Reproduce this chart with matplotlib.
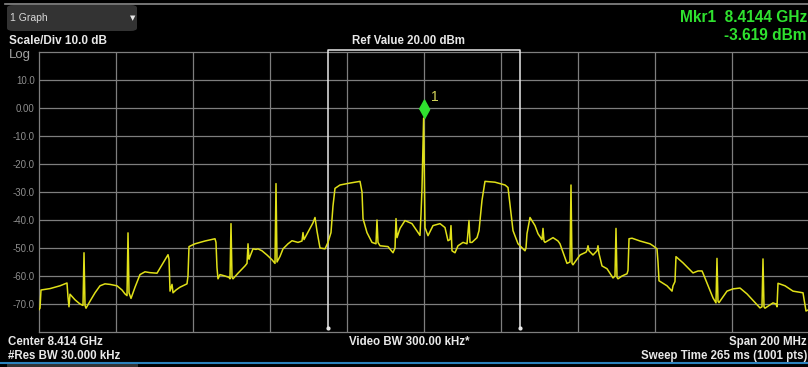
import numpy as np
import matplotlib
matplotlib.use("Agg")
import matplotlib.pyplot as plt
from matplotlib import transforms
from matplotlib.patches import FancyBboxPatch, Rectangle
from matplotlib.lines import Line2D

plt.rcParams['font.family'] = ['Liberation Sans', 'DejaVu Sans']

W, H = 808, 367

# analyzer settings
center_ghz = 8.414
span_mhz = 200
ref_dbm = 20.0
scale_db = 10.0
gate_mhz = [-25.0, 25.0]

# trace: offset from center (MHz) and level (dBm)
freq_mhz = [
    -100.0, -99.74, -99.48, -97.14, -94.55, -92.73, -92.47, -92.21, -91.95, -90.65,
    -89.35, -88.57, -88.31, -88.05, -87.79, -86.75, -85.45, -84.16, -82.86, -81.56,
    -79.74, -78.44, -77.66, -77.14, -76.88, -76.62, -76.10, -75.06, -73.77, -72.47,
    -71.17, -69.35, -68.05, -66.49, -66.23, -65.97, -65.45, -65.19, -64.42, -63.38,
    -61.56, -61.30, -61.04, -59.48, -56.88, -54.29, -54.03, -53.77, -53.51, -52.99,
    -51.69, -50.65, -50.39, -50.13, -49.87, -49.61, -48.31, -46.49, -45.97, -45.71,
    -45.45, -45.19, -44.42, -43.64, -43.12, -42.08, -40.78, -39.48, -38.70, -38.44,
    -38.18, -37.40, -36.62, -35.32, -34.29, -32.73, -31.69, -31.43, -31.17, -29.61,
    -28.83, -28.31, -27.79, -27.01, -25.71, -24.94, -24.16, -23.64, -23.12, -21.82,
    -19.22, -16.62, -16.10, -15.84, -14.81, -13.51, -12.47, -12.21, -11.95, -11.43,
    -9.35, -8.05, -7.53, -7.27, -7.01, -6.23, -4.94, -3.12, -1.56, -1.04,
    -0.78, -0.52, -0.10, 0.26, 1.04, 2.34, 4.16, 5.45, 6.23, 6.75,
    7.01, 7.27, 8.05, 8.83, 10.13, 11.17, 11.69, 11.95, 12.47, 13.77,
    14.29, 15.06, 15.84, 18.44, 21.04, 21.82, 22.60, 23.12, 24.42, 26.23,
    26.49, 26.75, 27.53, 28.83, 29.61, 30.65, 30.91, 31.17, 31.43, 33.51,
    34.81, 35.32, 37.14, 37.92, 38.18, 38.44, 38.70, 40.52, 42.08, 42.34,
    42.60, 42.86, 43.90, 44.94, 45.19, 45.45, 46.23, 47.53, 49.09, 49.61,
    49.87, 50.13, 50.39, 51.43, 52.73, 52.99, 53.25, 54.03, 56.10, 58.70,
    59.48, 60.52, 60.78, 61.04, 63.12, 64.42, 64.68, 65.19, 65.45, 67.27,
    69.87, 71.17, 72.21, 72.47, 75.06, 75.84, 76.10, 76.36, 76.62, 78.70,
    80.26, 82.08, 83.90, 87.27, 87.79, 88.05, 88.31, 88.57, 90.65, 91.43,
    91.69, 91.95, 93.77, 95.84, 98.44, 99.22, 100.0,
]
level_dbm = [
    -72.0, -71.5, -65.0, -64.5, -63.5, -62.5, -67.5, -71.0, -66.5, -68.5,
    -70.0, -70.5, -51.7, -70.5, -71.5, -69.0, -66.0, -63.5, -62.8, -63.0,
    -63.5, -65.0, -66.4, -67.0, -44.6, -66.0, -68.0, -64.0, -59.5, -58.5,
    -58.8, -59.0, -56.0, -52.4, -54.0, -65.4, -63.0, -66.0, -65.0, -64.0,
    -62.8, -60.0, -49.5, -48.5, -47.5, -46.7, -48.0, -57.0, -61.0, -59.5,
    -60.0, -60.5, -61.0, -41.3, -60.5, -61.0, -59.0, -56.4, -55.5, -48.5,
    -54.0, -53.0, -50.3, -50.5, -50.3, -51.0, -52.5, -54.2, -55.5, -27.0,
    -55.0, -53.0, -50.3, -48.5, -47.4, -48.0, -47.5, -44.5, -47.0, -43.0,
    -41.0, -39.1, -44.0, -50.0, -50.3, -48.0, -44.5, -35.0, -28.7, -27.5,
    -26.8, -26.2, -30.0, -39.5, -44.5, -48.0, -48.5, -40.0, -48.0, -49.2,
    -49.5, -51.7, -50.0, -39.5, -46.3, -43.0, -40.2, -41.3, -44.5, -45.5,
    -38.0, -28.7, -3.6, -42.7, -45.6, -42.0, -41.3, -42.7, -47.4, -47.0,
    -42.0, -51.0, -51.7, -49.2, -48.0, -48.5, -40.2, -48.0, -48.0, -46.3,
    -43.8, -33.0, -26.2, -26.5, -27.5, -28.4, -37.7, -43.8, -48.5, -51.0,
    -50.0, -44.9, -39.1, -42.0, -44.9, -47.0, -43.0, -47.5, -48.0, -46.3,
    -47.5, -48.5, -55.5, -55.0, -27.5, -55.5, -56.0, -52.5, -51.5, -50.8,
    -49.2, -51.0, -52.5, -51.0, -49.2, -52.0, -56.4, -57.4, -60.7, -60.0,
    -43.0, -60.5, -61.0, -60.0, -59.2, -58.0, -46.7, -46.5, -47.5, -48.5,
    -49.2, -50.3, -55.0, -61.7, -63.5, -65.4, -63.5, -62.0, -53.1, -55.3,
    -58.9, -58.2, -58.2, -59.0, -67.8, -69.6, -53.7, -69.0, -69.5, -65.4,
    -64.6, -64.3, -66.4, -71.4, -71.0, -53.9, -71.0, -71.5, -69.6, -70.0,
    -71.0, -62.6, -63.5, -65.4, -66.0, -72.5, -72.0,
]

ytick_vals = [10, 0, -10, -20, -30, -40, -50, -60, -70]
ytick_labels = ['10.0', '0.00', '-10.0', '-20.0', '-30.0', '-40.0', '-50.0', '-60.0', '-70.0']

freq = np.array(freq_mhz)
level = np.array(level_dbm)
pk = int(np.argmax(level))

grid_c = '#7e7e7e'
white = '#e8e8e8'
yellow = '#e0e018'
green = '#2fe22f'

fig = plt.figure(figsize=(W / 100, H / 100), dpi=100, facecolor='black')
ax = fig.add_axes([39 / W, 35 / H, 770 / W, 280 / H], facecolor='black')
ax.set_xlim(-span_mhz / 2, span_mhz / 2)
ax.set_ylim(ref_dbm - 10 * scale_db, ref_dbm)

# graticule
for v in np.arange(-80, 81, 20):
    ax.axvline(v, color=grid_c, lw=0.9, zorder=1)
for v in ytick_vals:
    ax.axhline(v, color=grid_c, lw=0.9, zorder=1)
for s in ax.spines.values():
    s.set_color(grid_c)
    s.set_linewidth(0.9)

ax.set_xticks([])
ax.set_yticks(ytick_vals)
ax.set_yticklabels(ytick_labels, color='#8e8e8e', fontsize=7)
ax.tick_params(axis='y', length=0, pad=3)

# gate bracket
top = ref_dbm + 0.75
bot = ref_dbm - 10 * scale_db + 1.3
ax.plot([gate_mhz[0], gate_mhz[0], gate_mhz[1], gate_mhz[1]], [bot, top, top, bot],
        color=white, lw=1.1, clip_on=False, zorder=3)
ax.plot(gate_mhz, [bot, bot], ls='none', marker='o', ms=2, color=white, zorder=3)

# trace
ax.plot(freq, level, color=yellow, lw=1.1, zorder=4)

# marker 1
mk_tr = transforms.offset_copy(ax.transData, fig=fig, x=0, y=9.5, units='dots')
ax.plot(freq[pk], level[pk], marker=[(0, -1), (0.55, 0), (0, 1), (-0.55, 0)],
        ms=13.5, color=green, transform=mk_tr, zorder=6, clip_on=False)
lb_tr = transforms.offset_copy(ax.transData, fig=fig, x=11, y=21, units='dots')
ax.text(freq[pk], level[pk], '1', transform=lb_tr, color='#d6d65a', fontsize=10,
        ha='center', va='center', zorder=6,
        bbox=dict(facecolor='black', edgecolor='none', pad=1.2))


def ftext(x, y, s, **kw):
    fig.text(x / W, 1 - y / H, s, **kw)


# header
fig.add_artist(Line2D([5 / W, 1], [1 - 3.5 / H, 1 - 3.5 / H], color='#8a8a8a', lw=1.2))
fig.add_artist(FancyBboxPatch((7 / W, 1 - 31 / H), 130 / W, 26 / H,
                              boxstyle='round,pad=0,rounding_size=0.008',
                              facecolor='#333333', edgecolor='none'))
ftext(10, 18, '1 Graph', color='#d8d8d8', fontsize=7.5, va='center')
ftext(133, 18, '\u25BC', color='#e8e8e8', fontsize=5, va='center', ha='center',
      family='DejaVu Sans')
ftext(9, 41, 'Scale/Div 10.0 dB', color=white, fontsize=8.5, weight='bold', va='center')
ftext(9, 55, 'Log', color='#a2a2a2', fontsize=9.5, va='center')
ftext(408, 41, 'Ref Value 20.00 dBm', color=white, fontsize=8.3, weight='bold',
      va='center', ha='center')
ftext(807, 17, 'Mkr1  8.4144 GHz', color=green, fontsize=11.2, weight='bold',
      va='center', ha='right')
ftext(807, 35, '-3.619 dBm', color=green, fontsize=11.2, weight='bold',
      va='center', ha='right')

# footer
ftext(8, 342, 'Center 8.414 GHz', color=white, fontsize=8.3, weight='bold', va='center')
ftext(8, 356, '#Res BW 30.000 kHz', color=white, fontsize=8.3, weight='bold', va='center')
ftext(409, 342, 'Video BW 300.00 kHz*', color=white, fontsize=8.3, weight='bold',
      va='center', ha='center')
ftext(807, 342, 'Span 200 MHz', color=white, fontsize=8.3, weight='bold',
      va='center', ha='right')
ftext(807, 356, 'Sweep Time 265 ms (1001 pts)', color=white, fontsize=8.3, weight='bold',
      va='center', ha='right')
fig.add_artist(Line2D([0, 1], [1 - 363 / H, 1 - 363 / H], color='#2b82bd', lw=1.5))
fig.add_artist(Rectangle((7 / W, 0), 131 / W, 3 / H, facecolor='#333333', edgecolor='none'))

fig.savefig('out.png', dpi=100, facecolor='black')
